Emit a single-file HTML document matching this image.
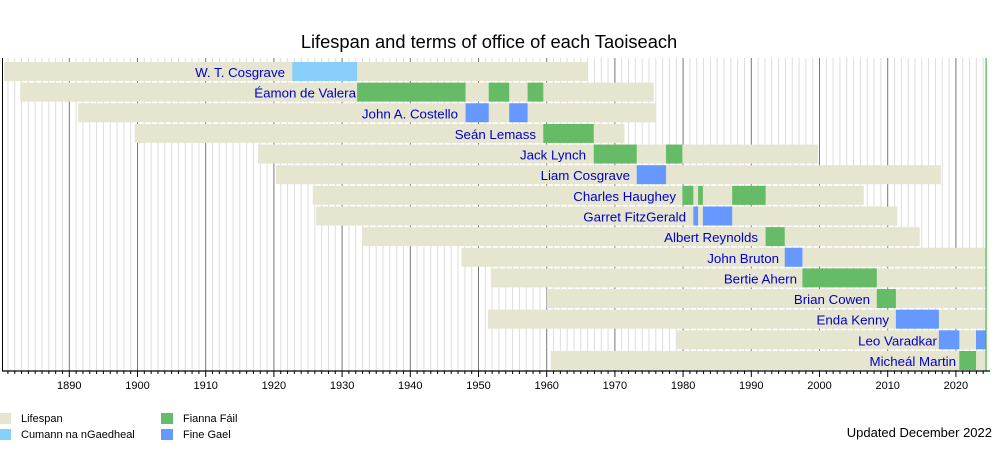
<!DOCTYPE html>
<html><head><meta charset="utf-8"><style>
html,body{margin:0;padding:0;background:#fff;}
svg{display:block;font-family:"Liberation Sans",sans-serif;}
.n{fill:#0000c8;font-size:13.3px;text-anchor:end;}
.t{font-size:11px;fill:#000;text-anchor:middle;}
.l{font-size:11px;fill:#000;}
</style></head><body>
<svg id="s" width="1000" height="450" viewBox="0 0 1000 450">
<rect width="1000" height="450" fill="#fff"/>
<g id="grid"></g>
<g id="bars"></g>
<text x="489" y="48" font-size="18.3" text-anchor="middle">Lifespan and terms of office of each Taoiseach</text>
<text class="n" x="285" y="77">W. T. Cosgrave</text>
<text class="n" x="356" y="97.6">Éamon de Valera</text>
<text class="n" x="458" y="118.3">John A. Costello</text>
<text class="n" x="536" y="138.9">Seán Lemass</text>
<text class="n" x="586" y="159.6">Jack Lynch</text>
<text class="n" x="630" y="180.2">Liam Cosgrave</text>
<text class="n" x="676" y="200.8">Charles Haughey</text>
<text class="n" x="686" y="221.5">Garret FitzGerald</text>
<text class="n" x="758" y="242.1">Albert Reynolds</text>
<text class="n" x="779" y="262.8">John Bruton</text>
<text class="n" x="797" y="283.4">Bertie Ahern</text>
<text class="n" x="870" y="304">Brian Cowen</text>
<text class="n" x="889" y="324.7">Enda Kenny</text>
<text class="n" x="937" y="345.3">Leo Varadkar</text>
<text class="n" x="956" y="366">Micheál Martin</text>
<g id="ticks"></g>
<text class="t" x="69.3" y="389">1890</text>
<text class="t" x="137.5" y="389">1900</text>
<text class="t" x="205.7" y="389">1910</text>
<text class="t" x="273.9" y="389">1920</text>
<text class="t" x="342.1" y="389">1930</text>
<text class="t" x="410.3" y="389">1940</text>
<text class="t" x="478.5" y="389">1950</text>
<text class="t" x="546.7" y="389">1960</text>
<text class="t" x="614.9" y="389">1970</text>
<text class="t" x="683.1" y="389">1980</text>
<text class="t" x="751.3" y="389">1990</text>
<text class="t" x="819.5" y="389">2000</text>
<text class="t" x="887.7" y="389">2010</text>
<text class="t" x="955.9" y="389">2020</text>
<rect x="0" y="413" width="11" height="11" fill="#e5e5d0"/>
<rect x="0" y="429" width="11" height="11" fill="#87cefa"/>
<rect x="161" y="413" width="12" height="11" fill="#66bb66"/>
<rect x="161" y="429" width="12" height="11" fill="#6699ff"/>
<text class="l" x="21" y="422">Lifespan</text>
<text class="l" x="21" y="438">Cumann na nGaedheal</text>
<text class="l" x="183" y="422">Fianna Fáil</text>
<text class="l" x="183" y="438">Fine Gael</text>
<text x="992" y="437" font-size="13" text-anchor="end">Updated December 2022</text>
</svg>
<script>
var NS="http://www.w3.org/2000/svg";
function X(y){return 69.3+(y-1890)*6.82;}
function el(p,t,a){var e=document.createElementNS(NS,t);for(var k in a)e.setAttribute(k,a[k]);document.getElementById(p).appendChild(e);}
var NOW=2024.35;
for(var y=1881;y<=2024;y++){var x=X(y);var maj=y%10==0;
el("grid","line",{x1:x,x2:x,y1:58,y2:371,stroke:maj?"#777":"#ddd","stroke-width":1});
el("ticks","line",{x1:x,x2:x,y1:371,y2:maj?377:374,stroke:"#000","stroke-width":1});}
el("ticks","line",{x1:2.5,x2:2.5,y1:58,y2:371,stroke:"#000","stroke-width":1});
el("ticks","line",{x1:2,x2:990,y1:371,y2:371,stroke:"#000","stroke-width":1.2});
var C={c:"#87cefa",f:"#66bb66",g:"#6699ff"};
var D=[[1880.45,1965.9,[["c",1922.7,1932.2]]],
[1882.8,1975.7,[["f",1932.2,1948.1],["f",1951.5,1954.5],["f",1957.2,1959.5]]],
[1891.3,1976.0,[["g",1948.1,1951.5],["g",1954.5,1957.2]]],
[1899.6,1971.4,[["f",1959.5,1966.9]]],
[1917.7,1999.8,[["f",1966.9,1973.2],["f",1977.5,1979.9]]],
[1920.3,2017.8,[["g",1973.2,1977.5]]],
[1925.7,2006.5,[["f",1979.9,1981.5],["f",1982.2,1982.9],["f",1987.2,1992.1]]],
[1926.2,2011.4,[["g",1981.5,1982.2],["g",1982.9,1987.2]]],
[1932.9,2014.7,[["f",1992.1,1994.9]]],
[1947.5,NOW,[["g",1994.9,1997.5]]],
[1951.8,NOW,[["f",1997.5,2008.4]]],
[1960.0,NOW,[["f",2008.4,2011.2]]],
[1951.4,NOW,[["g",2011.2,2017.5]]],
[1979.1,NOW,[["g",2017.5,2020.5],["g",2022.95,NOW]]],
[1960.6,NOW,[["f",2020.5,2022.95]]]];
D.forEach(function(r,i){var t=62+i*20.64;
el("bars","rect",{x:X(r[0]),y:t,width:X(r[1])-X(r[0]),height:19,fill:"#e5e5d0"});
r[2].forEach(function(o){el("bars","rect",{x:X(o[1]),y:t,width:X(o[2])-X(o[1]),height:19,fill:C[o[0]]});});});
el("bars","line",{x1:X(NOW)+0.5,x2:X(NOW)+0.5,y1:58,y2:371,stroke:"#2a2","stroke-width":1});
</script>
</body></html>
